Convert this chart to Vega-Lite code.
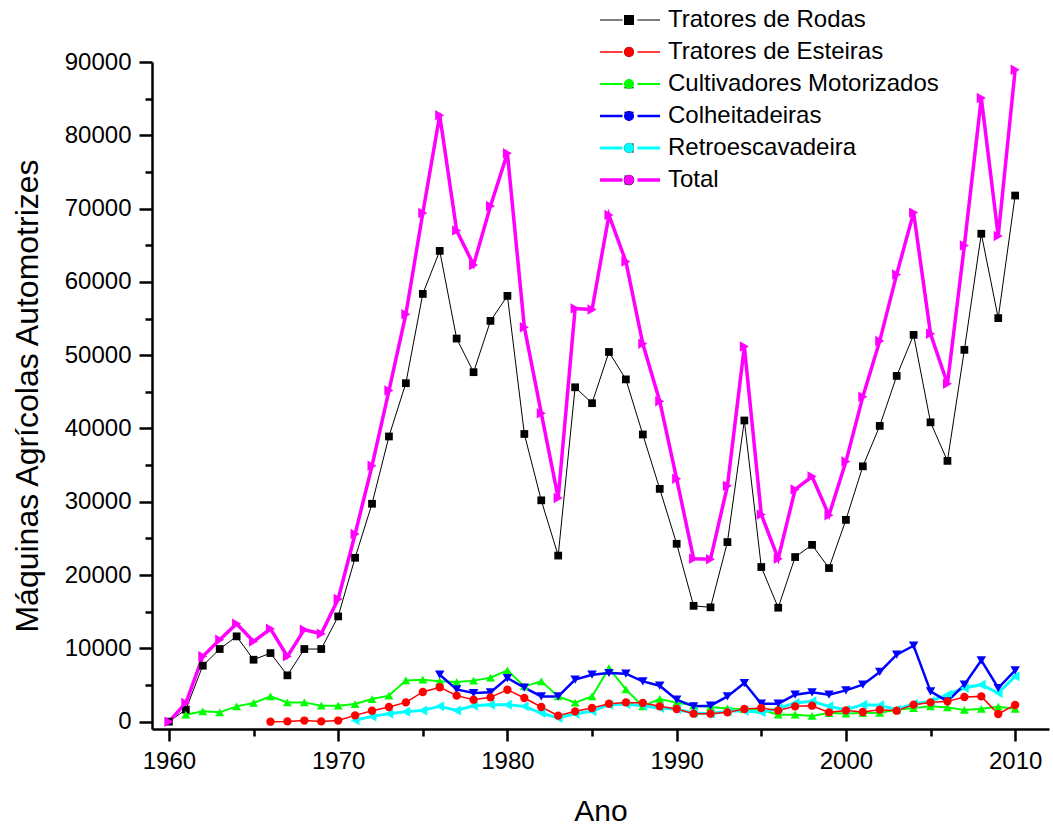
{
  "$schema": "https://vega.github.io/schema/vega-lite/v6.json",
  "width": 897,
  "height": 667,
  "autosize": "none",
  "padding": {"left": 152, "top": 62, "right": 4, "bottom": 101},
  "background": "white",
  "config": {
    "view": {"stroke": null},
    "font": "Liberation Sans",
    "axis": {
      "domainColor": "black", "tickColor": "black", "labelColor": "black", "titleColor": "black",
      "labelFont": "Liberation Sans", "titleFont": "Liberation Sans", "titleFontWeight": "normal",
      "grid": false, "domainWidth": 2.5, "tickWidth": 2.5, "labelFontSize": 24,
      "labelOverlap": false, "labelFlush": false
    },
    "legend": {"labelFont": "Liberation Sans", "labelFontSize": 24, "labelColor": "black", "labelLimit": 600, "rowPadding": 8, "clipHeight": 24}
  },
  "data": {"values": [
    {"Ano":1960,"Serie":"Tratores de Rodas","Valor":0},{"Ano":1961,"Serie":"Tratores de Rodas","Valor":1640},{"Ano":1962,"Serie":"Tratores de Rodas","Valor":7640},{"Ano":1963,"Serie":"Tratores de Rodas","Valor":9910},{"Ano":1964,"Serie":"Tratores de Rodas","Valor":11640},{"Ano":1965,"Serie":"Tratores de Rodas","Valor":8450},{"Ano":1966,"Serie":"Tratores de Rodas","Valor":9360},{"Ano":1967,"Serie":"Tratores de Rodas","Valor":6320},{"Ano":1968,"Serie":"Tratores de Rodas","Valor":9910},{"Ano":1969,"Serie":"Tratores de Rodas","Valor":9910},{"Ano":1970,"Serie":"Tratores de Rodas","Valor":14360},{"Ano":1971,"Serie":"Tratores de Rodas","Valor":22360},{"Ano":1972,"Serie":"Tratores de Rodas","Valor":29730},{"Ano":1973,"Serie":"Tratores de Rodas","Valor":38910},{"Ano":1974,"Serie":"Tratores de Rodas","Valor":46180},{"Ano":1975,"Serie":"Tratores de Rodas","Valor":58360},{"Ano":1976,"Serie":"Tratores de Rodas","Valor":64230},{"Ano":1977,"Serie":"Tratores de Rodas","Valor":52270},{"Ano":1978,"Serie":"Tratores de Rodas","Valor":47680},{"Ano":1979,"Serie":"Tratores de Rodas","Valor":54680},{"Ano":1980,"Serie":"Tratores de Rodas","Valor":58090},{"Ano":1981,"Serie":"Tratores de Rodas","Valor":39250},{"Ano":1982,"Serie":"Tratores de Rodas","Valor":30200},{"Ano":1983,"Serie":"Tratores de Rodas","Valor":22660},{"Ano":1984,"Serie":"Tratores de Rodas","Valor":45620},{"Ano":1985,"Serie":"Tratores de Rodas","Valor":43450},{"Ano":1986,"Serie":"Tratores de Rodas","Valor":50440},{"Ano":1987,"Serie":"Tratores de Rodas","Valor":46700},{"Ano":1988,"Serie":"Tratores de Rodas","Valor":39180},{"Ano":1989,"Serie":"Tratores de Rodas","Valor":31760},{"Ano":1990,"Serie":"Tratores de Rodas","Valor":24270},{"Ano":1991,"Serie":"Tratores de Rodas","Valor":15800},{"Ano":1992,"Serie":"Tratores de Rodas","Valor":15600},{"Ano":1993,"Serie":"Tratores de Rodas","Valor":24500},{"Ano":1994,"Serie":"Tratores de Rodas","Valor":41090},{"Ano":1995,"Serie":"Tratores de Rodas","Valor":21100},{"Ano":1996,"Serie":"Tratores de Rodas","Valor":15550},{"Ano":1997,"Serie":"Tratores de Rodas","Valor":22460},{"Ano":1998,"Serie":"Tratores de Rodas","Valor":24120},{"Ano":1999,"Serie":"Tratores de Rodas","Valor":20960},{"Ano":2000,"Serie":"Tratores de Rodas","Valor":27530},{"Ano":2001,"Serie":"Tratores de Rodas","Valor":34840},{"Ano":2002,"Serie":"Tratores de Rodas","Valor":40350},{"Ano":2003,"Serie":"Tratores de Rodas","Valor":47170},{"Ano":2004,"Serie":"Tratores de Rodas","Valor":52770},{"Ano":2005,"Serie":"Tratores de Rodas","Valor":40840},{"Ano":2006,"Serie":"Tratores de Rodas","Valor":35580},{"Ano":2007,"Serie":"Tratores de Rodas","Valor":50730},{"Ano":2008,"Serie":"Tratores de Rodas","Valor":66570},{"Ano":2009,"Serie":"Tratores de Rodas","Valor":55060},{"Ano":2010,"Serie":"Tratores de Rodas","Valor":71780},
    {"Ano":1961,"Serie":"Cultivadores Motorizados","Valor":950},{"Ano":1962,"Serie":"Cultivadores Motorizados","Valor":1410},{"Ano":1963,"Serie":"Cultivadores Motorizados","Valor":1270},{"Ano":1964,"Serie":"Cultivadores Motorizados","Valor":2090},{"Ano":1965,"Serie":"Cultivadores Motorizados","Valor":2550},{"Ano":1966,"Serie":"Cultivadores Motorizados","Valor":3450},{"Ano":1967,"Serie":"Cultivadores Motorizados","Valor":2630},{"Ano":1968,"Serie":"Cultivadores Motorizados","Valor":2630},{"Ano":1969,"Serie":"Cultivadores Motorizados","Valor":2180},{"Ano":1970,"Serie":"Cultivadores Motorizados","Valor":2180},{"Ano":1971,"Serie":"Cultivadores Motorizados","Valor":2410},{"Ano":1972,"Serie":"Cultivadores Motorizados","Valor":3090},{"Ano":1973,"Serie":"Cultivadores Motorizados","Valor":3550},{"Ano":1974,"Serie":"Cultivadores Motorizados","Valor":5630},{"Ano":1975,"Serie":"Cultivadores Motorizados","Valor":5730},{"Ano":1976,"Serie":"Cultivadores Motorizados","Valor":5500},{"Ano":1977,"Serie":"Cultivadores Motorizados","Valor":5400},{"Ano":1978,"Serie":"Cultivadores Motorizados","Valor":5600},{"Ano":1979,"Serie":"Cultivadores Motorizados","Valor":6000},{"Ano":1980,"Serie":"Cultivadores Motorizados","Valor":7000},{"Ano":1981,"Serie":"Cultivadores Motorizados","Valor":4800},{"Ano":1982,"Serie":"Cultivadores Motorizados","Valor":5500},{"Ano":1983,"Serie":"Cultivadores Motorizados","Valor":3450},{"Ano":1984,"Serie":"Cultivadores Motorizados","Valor":2600},{"Ano":1985,"Serie":"Cultivadores Motorizados","Valor":3450},{"Ano":1986,"Serie":"Cultivadores Motorizados","Valor":7300},{"Ano":1987,"Serie":"Cultivadores Motorizados","Valor":4400},{"Ano":1988,"Serie":"Cultivadores Motorizados","Valor":2100},{"Ano":1989,"Serie":"Cultivadores Motorizados","Valor":3100},{"Ano":1990,"Serie":"Cultivadores Motorizados","Valor":2600},{"Ano":1991,"Serie":"Cultivadores Motorizados","Valor":2200},{"Ano":1992,"Serie":"Cultivadores Motorizados","Valor":2000},{"Ano":1993,"Serie":"Cultivadores Motorizados","Valor":1800},{"Ano":1994,"Serie":"Cultivadores Motorizados","Valor":1700},{"Ano":1995,"Serie":"Cultivadores Motorizados","Valor":1640},{"Ano":1996,"Serie":"Cultivadores Motorizados","Valor":950},{"Ano":1997,"Serie":"Cultivadores Motorizados","Valor":950},{"Ano":1998,"Serie":"Cultivadores Motorizados","Valor":780},{"Ano":1999,"Serie":"Cultivadores Motorizados","Valor":1180},{"Ano":2000,"Serie":"Cultivadores Motorizados","Valor":1100},{"Ano":2001,"Serie":"Cultivadores Motorizados","Valor":1180},{"Ano":2002,"Serie":"Cultivadores Motorizados","Valor":1200},{"Ano":2003,"Serie":"Cultivadores Motorizados","Valor":1640},{"Ano":2004,"Serie":"Cultivadores Motorizados","Valor":1860},{"Ano":2005,"Serie":"Cultivadores Motorizados","Valor":2090},{"Ano":2006,"Serie":"Cultivadores Motorizados","Valor":1950},{"Ano":2007,"Serie":"Cultivadores Motorizados","Valor":1600},{"Ano":2008,"Serie":"Cultivadores Motorizados","Valor":1750},{"Ano":2009,"Serie":"Cultivadores Motorizados","Valor":2050},{"Ano":2010,"Serie":"Cultivadores Motorizados","Valor":1750},
    {"Ano":1971,"Serie":"Retroescavadeira","Valor":200},{"Ano":1972,"Serie":"Retroescavadeira","Valor":720},{"Ano":1973,"Serie":"Retroescavadeira","Valor":1090},{"Ano":1974,"Serie":"Retroescavadeira","Valor":1360},{"Ano":1975,"Serie":"Retroescavadeira","Valor":1540},{"Ano":1976,"Serie":"Retroescavadeira","Valor":2090},{"Ano":1977,"Serie":"Retroescavadeira","Valor":1540},{"Ano":1978,"Serie":"Retroescavadeira","Valor":2180},{"Ano":1979,"Serie":"Retroescavadeira","Valor":2320},{"Ano":1980,"Serie":"Retroescavadeira","Valor":2320},{"Ano":1981,"Serie":"Retroescavadeira","Valor":2090},{"Ano":1982,"Serie":"Retroescavadeira","Valor":1180},{"Ano":1983,"Serie":"Retroescavadeira","Valor":500},{"Ano":1984,"Serie":"Retroescavadeira","Valor":1090},{"Ano":1985,"Serie":"Retroescavadeira","Valor":1410},{"Ano":1986,"Serie":"Retroescavadeira","Valor":2320},{"Ano":1987,"Serie":"Retroescavadeira","Valor":2410},{"Ano":1988,"Serie":"Retroescavadeira","Valor":2180},{"Ano":1989,"Serie":"Retroescavadeira","Valor":1860},{"Ano":1990,"Serie":"Retroescavadeira","Valor":1680},{"Ano":1991,"Serie":"Retroescavadeira","Valor":1180},{"Ano":1992,"Serie":"Retroescavadeira","Valor":1090},{"Ano":1993,"Serie":"Retroescavadeira","Valor":1410},{"Ano":1994,"Serie":"Retroescavadeira","Valor":1500},{"Ano":1995,"Serie":"Retroescavadeira","Valor":1270},{"Ano":1996,"Serie":"Retroescavadeira","Valor":1800},{"Ano":1997,"Serie":"Retroescavadeira","Valor":2540},{"Ano":1998,"Serie":"Retroescavadeira","Valor":2770},{"Ano":1999,"Serie":"Retroescavadeira","Valor":2090},{"Ano":2000,"Serie":"Retroescavadeira","Valor":1640},{"Ano":2001,"Serie":"Retroescavadeira","Valor":2320},{"Ano":2002,"Serie":"Retroescavadeira","Valor":2230},{"Ano":2003,"Serie":"Retroescavadeira","Valor":1640},{"Ano":2004,"Serie":"Retroescavadeira","Valor":2450},{"Ano":2005,"Serie":"Retroescavadeira","Valor":2770},{"Ano":2006,"Serie":"Retroescavadeira","Valor":3680},{"Ano":2007,"Serie":"Retroescavadeira","Valor":4590},{"Ano":2008,"Serie":"Retroescavadeira","Valor":5050},{"Ano":2009,"Serie":"Retroescavadeira","Valor":3910},{"Ano":2010,"Serie":"Retroescavadeira","Valor":6180},
    {"Ano":1976,"Serie":"Colheitadeiras","Valor":6410},{"Ano":1977,"Serie":"Colheitadeiras","Valor":4400},{"Ano":1978,"Serie":"Colheitadeiras","Valor":3900},{"Ano":1979,"Serie":"Colheitadeiras","Valor":4000},{"Ano":1980,"Serie":"Colheitadeiras","Valor":5950},{"Ano":1981,"Serie":"Colheitadeiras","Valor":4640},{"Ano":1982,"Serie":"Colheitadeiras","Valor":3450},{"Ano":1983,"Serie":"Colheitadeiras","Valor":3450},{"Ano":1984,"Serie":"Colheitadeiras","Valor":5730},{"Ano":1985,"Serie":"Colheitadeiras","Valor":6410},{"Ano":1986,"Serie":"Colheitadeiras","Valor":6640},{"Ano":1987,"Serie":"Colheitadeiras","Valor":6550},{"Ano":1988,"Serie":"Colheitadeiras","Valor":5500},{"Ano":1989,"Serie":"Colheitadeiras","Valor":4910},{"Ano":1990,"Serie":"Colheitadeiras","Valor":3000},{"Ano":1991,"Serie":"Colheitadeiras","Valor":2090},{"Ano":1992,"Serie":"Colheitadeiras","Valor":2180},{"Ano":1993,"Serie":"Colheitadeiras","Valor":3450},{"Ano":1994,"Serie":"Colheitadeiras","Valor":5270},{"Ano":1995,"Serie":"Colheitadeiras","Valor":2450},{"Ano":1996,"Serie":"Colheitadeiras","Valor":2450},{"Ano":1997,"Serie":"Colheitadeiras","Valor":3680},{"Ano":1998,"Serie":"Colheitadeiras","Valor":4000},{"Ano":1999,"Serie":"Colheitadeiras","Valor":3680},{"Ano":2000,"Serie":"Colheitadeiras","Valor":4270},{"Ano":2001,"Serie":"Colheitadeiras","Valor":5050},{"Ano":2002,"Serie":"Colheitadeiras","Valor":6780},{"Ano":2003,"Serie":"Colheitadeiras","Valor":9140},{"Ano":2004,"Serie":"Colheitadeiras","Valor":10370},{"Ano":2005,"Serie":"Colheitadeiras","Valor":4140},{"Ano":2006,"Serie":"Colheitadeiras","Valor":2770},{"Ano":2007,"Serie":"Colheitadeiras","Valor":5050},{"Ano":2008,"Serie":"Colheitadeiras","Valor":8360},{"Ano":2009,"Serie":"Colheitadeiras","Valor":4590},{"Ano":2010,"Serie":"Colheitadeiras","Valor":7000},
    {"Ano":1966,"Serie":"Tratores de Esteiras","Valor":0},{"Ano":1967,"Serie":"Tratores de Esteiras","Valor":40},{"Ano":1968,"Serie":"Tratores de Esteiras","Valor":150},{"Ano":1969,"Serie":"Tratores de Esteiras","Valor":40},{"Ano":1970,"Serie":"Tratores de Esteiras","Valor":150},{"Ano":1971,"Serie":"Tratores de Esteiras","Valor":860},{"Ano":1972,"Serie":"Tratores de Esteiras","Valor":1500},{"Ano":1973,"Serie":"Tratores de Esteiras","Valor":2000},{"Ano":1974,"Serie":"Tratores de Esteiras","Valor":2630},{"Ano":1975,"Serie":"Tratores de Esteiras","Valor":4050},{"Ano":1976,"Serie":"Tratores de Esteiras","Valor":4700},{"Ano":1977,"Serie":"Tratores de Esteiras","Valor":3550},{"Ano":1978,"Serie":"Tratores de Esteiras","Valor":3000},{"Ano":1979,"Serie":"Tratores de Esteiras","Valor":3320},{"Ano":1980,"Serie":"Tratores de Esteiras","Valor":4360},{"Ano":1981,"Serie":"Tratores de Esteiras","Valor":3230},{"Ano":1982,"Serie":"Tratores de Esteiras","Valor":2000},{"Ano":1983,"Serie":"Tratores de Esteiras","Valor":820},{"Ano":1984,"Serie":"Tratores de Esteiras","Valor":1410},{"Ano":1985,"Serie":"Tratores de Esteiras","Valor":1860},{"Ano":1986,"Serie":"Tratores de Esteiras","Valor":2450},{"Ano":1987,"Serie":"Tratores de Esteiras","Valor":2630},{"Ano":1988,"Serie":"Tratores de Esteiras","Valor":2540},{"Ano":1989,"Serie":"Tratores de Esteiras","Valor":2090},{"Ano":1990,"Serie":"Tratores de Esteiras","Valor":1730},{"Ano":1991,"Serie":"Tratores de Esteiras","Valor":1090},{"Ano":1992,"Serie":"Tratores de Esteiras","Valor":1090},{"Ano":1993,"Serie":"Tratores de Esteiras","Valor":1270},{"Ano":1994,"Serie":"Tratores de Esteiras","Valor":1730},{"Ano":1995,"Serie":"Tratores de Esteiras","Valor":1860},{"Ano":1996,"Serie":"Tratores de Esteiras","Valor":1540},{"Ano":1997,"Serie":"Tratores de Esteiras","Valor":2090},{"Ano":1998,"Serie":"Tratores de Esteiras","Valor":2180},{"Ano":1999,"Serie":"Tratores de Esteiras","Valor":1270},{"Ano":2000,"Serie":"Tratores de Esteiras","Valor":1540},{"Ano":2001,"Serie":"Tratores de Esteiras","Valor":1320},{"Ano":2002,"Serie":"Tratores de Esteiras","Valor":1640},{"Ano":2003,"Serie":"Tratores de Esteiras","Valor":1500},{"Ano":2004,"Serie":"Tratores de Esteiras","Valor":2320},{"Ano":2005,"Serie":"Tratores de Esteiras","Valor":2630},{"Ano":2006,"Serie":"Tratores de Esteiras","Valor":2770},{"Ano":2007,"Serie":"Tratores de Esteiras","Valor":3360},{"Ano":2008,"Serie":"Tratores de Esteiras","Valor":3450},{"Ano":2009,"Serie":"Tratores de Esteiras","Valor":1050},{"Ano":2010,"Serie":"Tratores de Esteiras","Valor":2280},
    {"Ano":1960,"Serie":"Total","Valor":0},{"Ano":1961,"Serie":"Total","Valor":2550},{"Ano":1962,"Serie":"Total","Valor":8910},{"Ano":1963,"Serie":"Total","Valor":11180},{"Ano":1964,"Serie":"Total","Valor":13360},{"Ano":1965,"Serie":"Total","Valor":10950},{"Ano":1966,"Serie":"Total","Valor":12680},{"Ano":1967,"Serie":"Total","Valor":8910},{"Ano":1968,"Serie":"Total","Valor":12550},{"Ano":1969,"Serie":"Total","Valor":12000},{"Ano":1970,"Serie":"Total","Valor":16730},{"Ano":1971,"Serie":"Total","Valor":25600},{"Ano":1972,"Serie":"Total","Valor":34900},{"Ano":1973,"Serie":"Total","Valor":45180},{"Ano":1974,"Serie":"Total","Valor":55590},{"Ano":1975,"Serie":"Total","Valor":69410},{"Ano":1976,"Serie":"Total","Valor":82730},{"Ano":1977,"Serie":"Total","Valor":67000},{"Ano":1978,"Serie":"Total","Valor":62320},{"Ano":1979,"Serie":"Total","Valor":70360},{"Ano":1980,"Serie":"Total","Valor":77540},{"Ano":1981,"Serie":"Total","Valor":53820},{"Ano":1982,"Serie":"Total","Valor":42090},{"Ano":1983,"Serie":"Total","Valor":30500},{"Ano":1984,"Serie":"Total","Valor":56360},{"Ano":1985,"Serie":"Total","Valor":56220},{"Ano":1986,"Serie":"Total","Valor":69110},{"Ano":1987,"Serie":"Total","Valor":62770},{"Ano":1988,"Serie":"Total","Valor":51560},{"Ano":1989,"Serie":"Total","Valor":43720},{"Ano":1990,"Serie":"Total","Valor":33140},{"Ano":1991,"Serie":"Total","Valor":22230},{"Ano":1992,"Serie":"Total","Valor":22150},{"Ano":1993,"Serie":"Total","Valor":32170},{"Ano":1994,"Serie":"Total","Valor":51180},{"Ano":1995,"Serie":"Total","Valor":28270},{"Ano":1996,"Serie":"Total","Valor":22230},{"Ano":1997,"Serie":"Total","Valor":31680},{"Ano":1998,"Serie":"Total","Valor":33440},{"Ano":1999,"Serie":"Total","Valor":28170},{"Ano":2000,"Serie":"Total","Valor":35480},{"Ano":2001,"Serie":"Total","Valor":44340},{"Ano":2002,"Serie":"Total","Valor":51950},{"Ano":2003,"Serie":"Total","Valor":61020},{"Ano":2004,"Serie":"Total","Valor":69450},{"Ano":2005,"Serie":"Total","Valor":52920},{"Ano":2006,"Serie":"Total","Valor":46100},{"Ano":2007,"Serie":"Total","Valor":64960},{"Ano":2008,"Serie":"Total","Valor":85090},{"Ano":2009,"Serie":"Total","Valor":66270},{"Ano":2010,"Serie":"Total","Valor":88930}
  ]},
  "encoding": {
    "x": {
      "field": "Ano", "type": "quantitative",
      "scale": {"domain": [1959, 2012], "nice": false, "zero": false},
      "axis": {
        "title": "Ano",
        "titleFontSize": 30,
        "values": [1960, 1965, 1970, 1975, 1980, 1985, 1990, 1995, 2000, 2005, 2010],
        "format": "d",
        "labelExpr": "datum.value % 10 === 0 ? datum.label : ''",
        "tickSize": {"condition": {"test": "datum.value % 10 === 0", "value": 12}, "value": 7},
        "labelPadding": 8,
        "titlePadding": 23
      }
    },
    "y": {
      "field": "Valor", "type": "quantitative",
      "scale": {"domain": [-1000, 90000], "nice": false, "zero": false},
      "axis": {
        "title": "Máquinas Agrícolas Automotrizes",
        "titleFontSize": 32,
        "values": [0, 5000, 10000, 15000, 20000, 25000, 30000, 35000, 40000, 45000, 50000, 55000, 60000, 65000, 70000, 75000, 80000, 85000, 90000],
        "format": "d",
        "labelExpr": "datum.value % 10000 === 0 ? datum.label : ''",
        "tickSize": {"condition": {"test": "datum.value % 10000 === 0", "value": 13}, "value": 7},
        "labelPadding": 8,
        "titlePadding": 20
      }
    }
  },
  "layer": [
    {
      "mark": {"type": "line", "clip": false},
      "encoding": {
        "color": {
          "field": "Serie", "type": "nominal",
          "scale": {
            "domain": ["Tratores de Rodas", "Tratores de Esteiras", "Cultivadores Motorizados", "Colheitadeiras", "Retroescavadeira", "Total"],
            "range": ["#000000", "#ff0000", "#00ff00", "#0000ff", "#00ffff", "#ff00ff"]
          },
          "legend": {"orient": "none", "legendX": 446, "legendY": -54, "title": null, "symbolType": "M-1,0H1.25M2.75,0H5", "symbolSize": 400, "labelOffset": 46}
        },
        "strokeWidth": {
          "field": "Serie", "type": "nominal",
          "scale": {"domain": ["Tratores de Rodas", "Tratores de Esteiras", "Cultivadores Motorizados", "Colheitadeiras", "Retroescavadeira", "Total"], "range": [1, 3.5, 3.5, 3.5, 3.5, 3.5]},
          "legend": {"orient": "none", "legendX": 446, "legendY": -54, "title": null, "symbolType": "M-1,0H1.25M2.75,0H5", "symbolSize": 400, "labelOffset": 46}
        }
      }
    },
    {
      "mark": {"type": "point", "filled": true, "opacity": 1},
      "encoding": {
        "fill": {
          "field": "Serie", "type": "nominal",
          "sort": ["Tratores de Rodas", "Tratores de Esteiras", "Cultivadores Motorizados", "Colheitadeiras", "Retroescavadeira", "Total"],
          "scale": {"range": ["#000000", "#ff0000", "#00ff00", "#0000ff", "#00ffff", "#ff00ff"]},
          "legend": {"orient": "none", "legendX": 465, "legendY": -54, "title": null, "labelExpr": "''"}
        },
        "shape": {
          "field": "Serie", "type": "nominal",
          "sort": ["Tratores de Rodas", "Tratores de Esteiras", "Cultivadores Motorizados", "Colheitadeiras", "Retroescavadeira", "Total"],
          "scale": {"range": ["square", "circle", "triangle-up", "triangle-down", "triangle-left", "triangle-right"]},
          "legend": {"orient": "none", "legendX": 465, "legendY": -54, "title": null, "labelExpr": "''"}
        },
        "size": {
          "field": "Serie", "type": "nominal",
          "sort": ["Tratores de Rodas", "Tratores de Esteiras", "Cultivadores Motorizados", "Colheitadeiras", "Retroescavadeira", "Total"],
          "scale": {"range": [60, 110, 130, 130, 130, 120]},
          "legend": {"orient": "none", "legendX": 465, "legendY": -54, "title": null, "labelExpr": "''"}
        }
      }
    }
  ]
}
